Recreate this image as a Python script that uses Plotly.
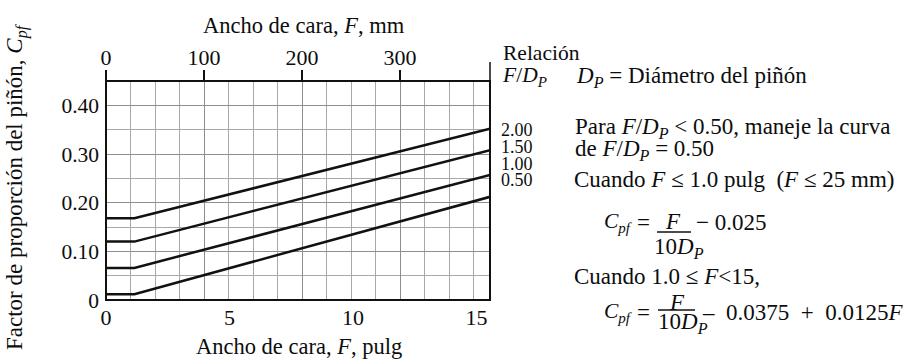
import plotly.graph_objects as go

# ---- data ----
F_in = [0, 1.15, 15.55]                      # face width, inches (break point and right edge)
ratio_labels = ["2.00", "1.50", "1.00", "0.50"]
cpf_200 = [0.168, 0.168, 0.352]
cpf_150 = [0.120, 0.120, 0.308]
cpf_100 = [0.066, 0.066, 0.257]
cpf_050 = [0.012, 0.012, 0.212]

x_ticks_in = [0, 5, 10, 15]
x_ticks_mm = [0, 100, 200, 300]
y_ticks = [0, 0.10, 0.20, 0.30, 0.40]
y_ticktext = ["0", "0.10", "0.20", "0.30", "0.40"]

X_RANGE_IN = [0, 15.55]
X_RANGE_MM = [0, 391.8]
Y_RANGE = [0, 0.45]

# ---- layout geometry (pixels) ----
W, H = 903, 359
L, R, T, B = 106, 490, 81, 300
FONT = "Liberation Serif, Times New Roman, serif"
INK = "#0d0d0d"
GRID = "#a8a8a8"
GRID_MAJOR = "#8e8e8e"

def X(p):
    return (p - L) / (R - L)

def Y(p):
    return (B - p) / (B - T)

fig = go.Figure()
for vals in [cpf_200, cpf_150, cpf_100, cpf_050]:
    fig.add_trace(go.Scatter(x=F_in, y=vals, mode="lines",
                             line=dict(color="#111111", width=2.5),
                             hoverinfo="skip", showlegend=False))
# invisible trace that carries the top (mm) axis
fig.add_trace(go.Scatter(x=X_RANGE_MM, y=Y_RANGE, xaxis="x2", mode="lines",
                         line=dict(width=0, color="rgba(0,0,0,0)"),
                         hoverinfo="skip", showlegend=False))

ann = []
def text(t, x, y, size=23, xanchor="left", yanchor="middle", angle=0):
    ann.append(dict(text=t, x=X(x), y=Y(y), xref="paper", yref="paper",
                    xanchor=xanchor, yanchor=yanchor, showarrow=False,
                    textangle=angle, font=dict(family=FONT, size=size, color=INK)))

text("Ancho de cara, <i>F</i>, mm", 304, 25, size=22.5, xanchor="center")
text("Ancho de cara, <i>F</i>, pulg", 299, 346, size=22.5, xanchor="center")
text("Factor de proporción del piñón, <i>C<sub>pf</sub></i>", 16, 187, size=23,
     xanchor="center", angle=-90)
text("Relación", 501, 53, size=21.5)
text("<i>F</i>/<i>D<sub>P</sub></i>", 500, 76, size=21.5)
text("<i>D<sub>P</sub></i> = Diámetro del piñón", 574, 77)
for lab, yy in zip(ratio_labels, [130, 147, 164, 180]):
    text(lab, 499, yy, size=18)
text("Para <i>F</i>/<i>D<sub>P</sub></i> &lt; 0.50, maneje la curva", 573, 128)
text("de <i>F</i>/<i>D<sub>P</sub></i> = 0.50", 573, 150)
text("Cuando <i>F</i> ≤ 1.0 pulg  (<i>F</i> ≤ 25 mm)", 572, 179)
text("<i>C<sub>pf</sub></i>", 602, 222, size=21.5)
text("=", 643, 222, xanchor="center")
text("<i>F</i>", 673, 221, xanchor="center")
text("10<i>D<sub>P</sub></i>", 679, 248, xanchor="center")
text("− 0.025", 694, 222)
text("Cuando 1.0 ≤ <i>F</i>&lt;15,", 572, 276)
text("<i>C<sub>pf</sub></i>", 602, 312, size=21.5)
text("=", 643, 312, xanchor="center")
text("<i>F</i>", 677, 302, xanchor="center")
text("10<i>D<sub>P</sub></i>", 683, 323, xanchor="center")
text("–  0.0375  +  0.0125<i>F</i>", 700, 312)

shapes = [
    dict(type="rect", xref="paper", yref="paper", x0=0, x1=1, y0=0, y1=1,
         line=dict(color="#111111", width=2)),
    dict(type="line", xref="paper", yref="paper", x0=1, x1=1, y0=1, y1=Y(62),
         line=dict(color="#111111", width=1.5)),
    dict(type="line", xref="paper", yref="paper", x0=X(657), x1=X(691), y0=Y(232), y1=Y(232),
         line=dict(color="#111111", width=1.5)),
    dict(type="line", xref="paper", yref="paper", x0=X(658), x1=X(695), y0=Y(310), y1=Y(310),
         line=dict(color="#111111", width=1.5)),
]

fig.update_layout(
    width=W, height=H,
    margin=dict(l=L, r=W - R, t=T, b=H - B, pad=0),
    paper_bgcolor="white", plot_bgcolor="white",
    font=dict(family=FONT, color=INK, size=21),
    showlegend=False,
    annotations=ann, shapes=shapes,
    xaxis=dict(range=X_RANGE_IN, tickvals=x_ticks_in, ticktext=[str(v) for v in x_ticks_in],
               showgrid=False, zeroline=False, ticks="", showline=False,
               tickfont=dict(size=22), ticklabelstandoff=2),
    xaxis2=dict(range=X_RANGE_MM, overlaying="x", side="top", anchor="y",
                tickvals=x_ticks_mm, ticktext=[str(v) for v in x_ticks_mm],
                showgrid=True, gridcolor=GRID_MAJOR, gridwidth=1, zeroline=False,
                ticks="outside", ticklen=10, tickwidth=1.5, tickcolor="#111111",
                tickfont=dict(size=22), showline=False, ticklabelstandoff=-4,
                minor=dict(tickmode="linear", tick0=0, dtick=25, showgrid=True,
                           gridcolor=GRID, gridwidth=1, ticks="")),
    yaxis=dict(range=Y_RANGE, tickvals=y_ticks, ticktext=y_ticktext,
               showgrid=True, gridcolor=GRID_MAJOR, gridwidth=1.2, zeroline=False,
               ticks="", showline=False, tickfont=dict(size=21.5), ticklabelstandoff=6,
               minor=dict(tickmode="linear", tick0=0, dtick=0.05, showgrid=True,
                          gridcolor=GRID, gridwidth=1, ticks="")),
)

fig.write_html("out.html")
